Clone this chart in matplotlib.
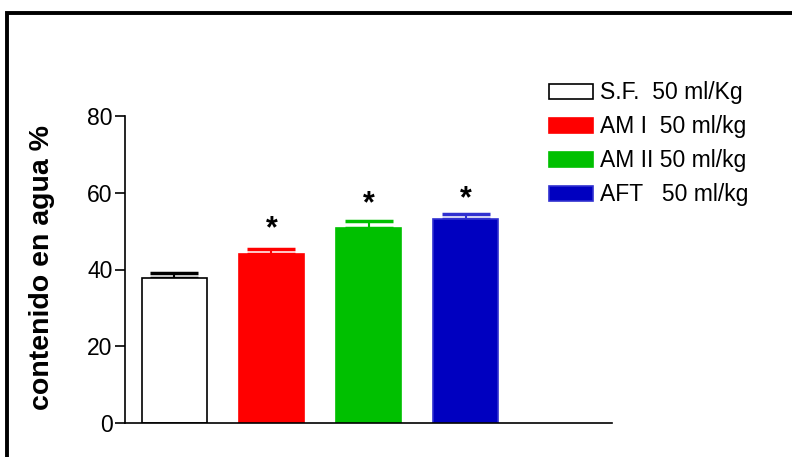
import matplotlib.pyplot as plt
from matplotlib.patches import Patch, Rectangle

plt.rcParams['font.family'] = ['Liberation Sans', 'DejaVu Sans']

# datos
grupos = ['S.F.  50 ml/Kg', 'AM I  50 ml/kg', 'AM II 50 ml/kg', 'AFT   50 ml/kg']
medias = [37.7, 44.0, 50.9, 53.1]
errores = [1.5, 1.4, 1.7, 1.3]
# altura de los asteriscos (None = sin diferencia significativa)
asteriscos = [None, 50.5, 57.0, 58.3]
colores = ['white', '#ff0000', '#00c000', '#0000c0']
bordes = ['black', '#ff0000', '#00c000', '#3030d0']

fig = plt.figure(figsize=(7.92, 4.57), dpi=100)
ax = fig.add_axes([125 / 792, 1 - 423 / 457, (612 - 125) / 792, (423 - 116) / 457])

x = list(range(len(grupos)))
for i in x:
    ax.bar(i, medias[i], width=0.67, color=colores[i], edgecolor=bordes[i],
           linewidth=1.2, zorder=2)
    ax.errorbar(i, medias[i], yerr=[[0], [errores[i]]], fmt='none',
                ecolor=bordes[i] if i else 'black', elinewidth=1.5,
                capsize=17, capthick=2.5, zorder=1)
    if asteriscos[i] is not None:
        ax.text(i, asteriscos[i], '*', ha='center', va='center',
                fontsize=22, fontweight='bold')

ax.set_xlim(-0.51, 4.51)
ax.set_ylim(0, 80)
ax.set_yticks([0, 20, 40, 60, 80])
ax.tick_params(axis='y', labelsize=16.5, length=7, width=1.2, pad=2)
ax.tick_params(axis='x', bottom=False, labelbottom=False)
for s in ['top', 'right']:
    ax.spines[s].set_visible(False)
for s in ['left', 'bottom']:
    ax.spines[s].set_linewidth(1.2)
ax.spines['left'].set_bounds(0, 80)

fig.text(42 / 792, 1 - 268 / 457, 'contenido en agua %', rotation=90,
         ha='center', va='center', fontsize=20.5, fontweight='bold')

handles = [Patch(facecolor=colores[i], edgecolor=bordes[i], linewidth=1.2)
           for i in x]
fig.legend(handles, grupos, loc='upper left',
           bbox_to_anchor=(538 / 792, 1 - 70 / 457), frameon=False,
           fontsize=16.5, handlelength=1.9, handleheight=0.65,
           handletextpad=0.3, labelspacing=0.48, borderpad=0)

# marco
fig.patches.append(Rectangle((6.5 / 792, -0.2), 1.2, 0.2 + 1 - 13 / 457,
                             transform=fig.transFigure, fill=False,
                             edgecolor='black', linewidth=2.8))

fig.savefig('out.png', dpi=100)
